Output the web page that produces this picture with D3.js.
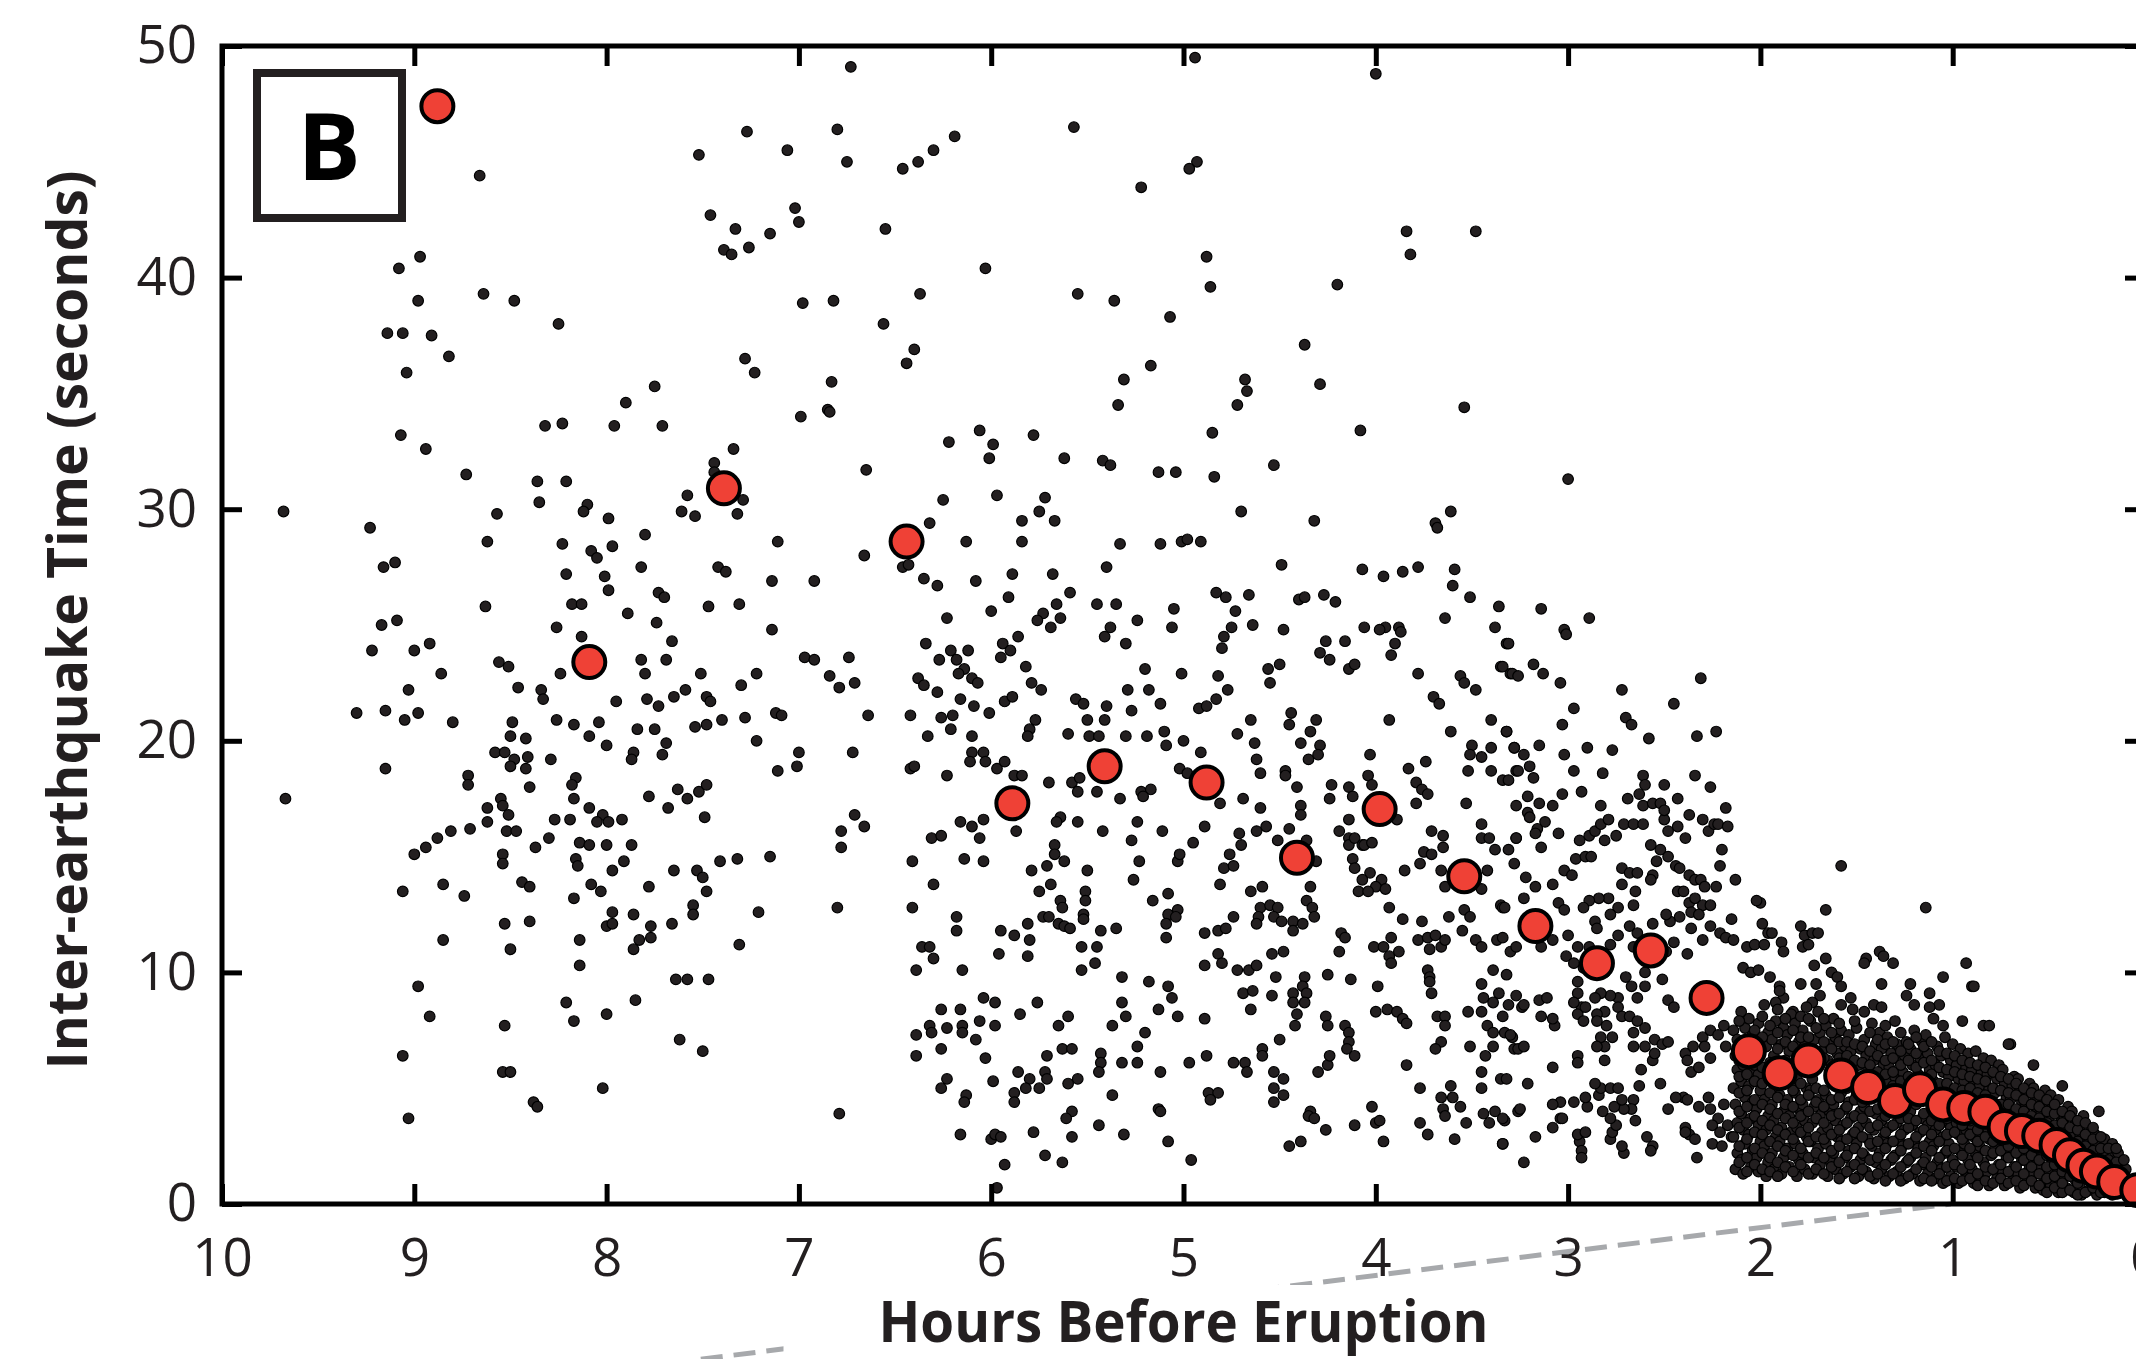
<!DOCTYPE html>
<html>
<head>
<meta charset="utf-8">
<script src="https://cdnjs.cloudflare.com/ajax/libs/d3/7.8.5/d3.min.js"></script>
<style>
  body { margin: 0; background: #fff; }
  svg { display: block; }
</style>
</head>
<body>
<div id="chart"></div>
<script>
const hourTicks = [10, 9, 8, 7, 6, 5, 4, 3, 2, 1, 0];
const secondTicks = [0, 10, 20, 30, 40, 50];

// red circles: binned mean inter-event time [hours before eruption, seconds]
const binnedMeans = [
  [8.88,47.4],[8.09,23.4],[7.39,30.9],[6.44,28.6],[5.89,17.3],[5.41,18.9],[4.88,18.2],[4.41,14.95],
  [3.98,17.05],[3.54,14.15],[3.17,12.0],[2.85,10.4],[2.57,10.95],[2.28,8.9],[2.06,6.6],[1.9,5.65],
  [1.75,6.2],[1.58,5.55],[1.44,5.05],[1.3,4.45],[1.17,4.95],[1.05,4.3],[0.94,4.15],[0.83,3.98],
  [0.73,3.33],[0.64,3.15],[0.55,2.95],[0.46,2.55],[0.39,2.1],[0.32,1.65],[0.25,1.4],[0.16,0.95],[0.04,0.6]
];

// black dots: individual earthquakes [hours before eruption, seconds]
const quakesEarly = [
  [6.73,49.1],[7.27,46.3],[7.52,45.3],[7.06,45.5],[6.8,46.4],[6.75,45],[8.66,44.4],[7.46,42.7],[7.33,42.1],[7.39,41.2],
  [7.35,41],[7.26,41.3],[7.15,41.9],[7.02,43],[7,42.4],[8.97,40.9],[9.08,40.4],[8.98,39],[8.64,39.3],[8.48,39],
  [8.25,38],[9.14,37.6],[9.06,37.6],[8.91,37.5],[8.82,36.6],[9.04,35.9],[6.98,38.9],[6.82,39],[7.28,36.5],[7.23,35.9],
  [6.83,35.5],[7.75,35.3],[7.9,34.6],[6.99,34],[6.85,34.3],[6.84,34.2],[8.32,33.6],[8.23,33.7],[7.96,33.6],[7.71,33.6],
  [9.07,33.2],[8.94,32.6],[8.73,31.5],[7.34,32.6],[7.44,32],[7.44,31.6],[6.65,31.7],[8.36,31.2],[8.21,31.2],[8.35,30.3],
  [8.1,30.2],[8.12,29.9],[7.99,29.6],[8.57,29.8],[7.58,30.6],[7.61,29.9],[7.54,29.7],[7.32,29.8],[7.29,30.4],[9.68,29.9],
  [9.23,29.2],[9.16,27.5],[9.1,27.7],[8.62,28.6],[8.23,28.5],[8.08,28.2],[8.05,27.9],[7.97,28.4],[7.8,28.9],[7.82,27.5],
  [8.21,27.2],[8.01,27.1],[7.99,26.5],[7.42,27.5],[7.38,27.3],[7.11,28.6],[7.14,26.9],[6.92,26.9],[6.66,28],[7.73,26.4],
  [7.7,26.2],[7.47,25.8],[7.31,25.9],[8.63,25.8],[8.18,25.9],[8.13,25.9],[7.89,25.5],[7.74,25.1],[9.17,25],[9.09,25.2],
  [8.26,24.9],[7.14,24.8],
  [9.22,23.9],[9,23.9],[8.92,24.2],[8.13,24.5],[7.66,24.3],[8.56,23.4],[8.51,23.2],[8.24,22.9],[8.86,22.9],[9.03,22.2],
  [8.46,22.3],[8.34,22.2],[8.33,21.8],[7.82,23.5],[7.69,23.5],[7.8,22.9],[7.51,22.9],[7.3,22.4],[7.22,22.9],[6.97,23.6],
  [6.92,23.5],[6.74,23.6],[6.84,22.8],[6.79,22.3],[6.71,22.5],[6.64,21.1],[9.3,21.2],[9.15,21.3],[9.05,20.9],[8.98,21.2],
  [8.8,20.8],[8.49,20.8],[8.26,20.9],[8.17,20.7],[8.04,20.8],[7.95,21.7],[7.79,21.8],[7.73,21.5],[7.65,21.9],[7.59,22.2],
  [7.48,21.9],[7.46,21.7],[7.4,20.9],[7.28,21],[7.12,21.2],[7.09,21.1],[7.54,20.6],[7.48,20.7],[7.84,20.5],[7.75,20.5],
  [8.5,20.2],[8.42,20.1],[8.09,20.2],[8,19.8],[7.69,19.9],[7.22,20],[7.86,19.5],[7.87,19.2],[7.71,19.4],[7,19.5],
  [6.72,19.5],[7.01,18.9],[7.11,18.7],[9.15,18.8],[8.58,19.5],[8.53,19.5],[8.48,19.2],[8.41,19.3],[8.5,18.9],[8.42,18.8],
  [8.29,19.2],[8.72,18.5],[8.72,18.1],[8.4,18],[8.16,18.4],[8.18,18.1],[9.67,17.5],[8.55,17.5],[8.54,17.2],[8.62,17.1],
  [8.51,16.8],[8.62,16.5],[8.52,16.1],[8.47,16.1],[8.71,16.2],[8.81,16.1],[8.88,15.8],[8.94,15.4],[9,15.1],[8.3,15.8],
  [8.37,15.4],[8.27,16.6],[8.19,16.6],[8.17,17.5],[8.09,17.1],[8.02,16.8],[8.05,16.5],[7.99,16.5],[7.92,16.6],[8.14,15.6],
  [8.09,15.5],[8,15.5],[7.87,15.5],[7.78,17.6],[7.68,17.1],[7.63,17.9],[7.58,17.5],[7.52,17.8],[7.48,18.1],[7.49,16.7],
  [6.71,16.8],[6.66,16.3],[6.78,16.1],[6.78,15.4],[8.54,15.1],[8.54,14.7],[8.16,14.9],[8.15,14.6],[7.97,14.4],[7.91,14.8],
  [7.65,14.4],[7.53,14.4],[7.5,14.1],[7.41,14.8],[7.32,14.9],[7.15,15],[7.48,13.5],[8.85,13.8],[9.06,13.5],[8.74,13.3],
  [8.44,13.9],[8.4,13.7],[8.08,13.8],[8.03,13.5],[8.17,13.2],[7.78,13.7],[7.97,12.6],[7.86,12.5],[8,12],[7.97,12.1],
  [7.77,12],[7.66,12.1],[7.55,12.9],[7.55,12.5],[7.21,12.6],[6.8,12.8],[8.53,12.1],[8.4,12.2],[8.85,11.4],[8.5,11],
  [8.14,11.4],[7.83,11.4],[7.77,11.5],[7.86,11],[7.31,11.2],[8.14,10.3],[8.98,9.4],[7.64,9.7],[7.58,9.7],[7.47,9.7],
  [7.85,8.8],[8.21,8.7],[8.92,8.1],[8,8.2],[8.17,7.9],[8.53,7.7],[7.62,7.1],[7.5,6.6],[9.06,6.4],[8.54,5.7],
  [8.5,5.7],[8.02,5],[8.38,4.4],[8.36,4.2],[9.03,3.7],[6.79,3.9]
];

const quakesMiddle = [
  [4.94,49.5],[4,48.8],[6.19,46.1],[6.3,45.5],[6.38,45],[6.46,44.7],[5.57,46.5],[4.93,45],[4.97,44.7],[5.22,43.9],
  [6.55,42.1],[3.84,42],[3.82,41],[3.48,42],[4.88,40.9],[6.03,40.4],[6.37,39.3],[5.55,39.3],[5.36,39],[4.86,39.6],
  [4.2,39.7],[5.07,38.3],[6.56,38],[6.4,36.9],[6.44,36.3],[5.17,36.2],[5.31,35.6],[5.34,34.5],[4.68,35.6],[4.67,35.1],
  [4.72,34.5],[4.37,37.1],[4.29,35.4],[3.54,34.4],[4.08,33.4],[4.85,33.3],[4.53,31.9],[6.06,33.4],[6.22,32.9],[5.99,32.8],
  [6.01,32.2],[5.78,33.2],[5.62,32.2],[5.42,32.1],[5.38,31.9],[5.13,31.6],[5.04,31.6],[4.84,31.4],[6.25,30.4],[5.97,30.6],
  [5.72,30.5],[5.75,29.9],[5.84,29.5],[5.67,29.5],[6.32,29.4],[6.13,28.6],[5.84,28.6],[5.33,28.5],[5.12,28.5],[5.01,28.6],
  [4.98,28.7],[4.91,28.6],[4.7,29.9],[4.32,29.5],[3.69,29.4],[3.68,29.2],[3.61,29.9],[6.46,27.5],[6.43,27.6],[6.35,27],
  [6.28,26.7],[6.08,26.9],[5.89,27.2],[5.68,27.2],[5.4,27.5],[5.91,26.2],[5.59,26.4],[5.66,25.9],[5.73,25.5],[5.76,25.2],
  [5.64,25.3],[5.45,25.9],[5.35,25.9],[5.24,25.2],[5.05,25.7],[6,25.6],[6.23,25.3],[4.83,26.4],[4.78,26.2],[4.66,26.3],
  [4.73,25.6],[4.49,27.6],[4.4,26.1],[4.37,26.2],[4.27,26.3],[4.21,26],[4.07,27.4],[3.96,27.1],[3.86,27.3],[3.78,27.5],
  [3.59,27.4],[3.6,26.7],[3.51,26.2],[3.36,25.8],[3.64,25.3],[3.38,24.9],[4.06,24.9],[3.95,24.9],[3.88,24.9],[3.98,24.8],
  [5.69,24.9],[5.38,24.9],[5.06,24.9],[4.75,24.9],[4.64,25],[4.48,24.8],
  [6.34,24.2],[6.21,23.9],[6.12,23.9],[6.18,23.5],[6.14,23.1],[6.17,22.9],[6.27,23.5],[6.38,22.7],[6.35,22.4],[6.28,22.1],
  [6.1,22.7],[6.07,22.5],[6.16,21.8],[6.09,21.5],[5.94,24.2],[5.9,23.9],[5.95,23.6],[5.86,24.5],[5.82,23.2],[5.79,22.5],
  [5.74,22.2],[5.41,24.5],[5.3,24.2],[5.2,23.1],[5.01,22.9],[4.82,22.8],[4.79,24.5],[4.8,24],[4.26,24.3],[4.16,24.3],
  [4.29,23.8],[4.24,23.5],[4.14,23.1],[4.11,23.3],[4.56,23.1],[4.5,23.3],[4.55,22.5],[3.87,24.7],[3.9,24.2],[3.92,23.7],
  [3.78,22.9],[3.32,24.2],[3.35,23.2],[3.3,22.9],[3.56,22.8],[3.54,22.5],[3.48,22.2],[5.29,22.2],[5.18,22.2],[5.56,21.8],
  [5.52,21.6],[5.4,21.5],[5.27,21.3],[5.12,21.6],[4.83,21.8],[4.77,22.2],[4.92,21.4],[4.88,21.5],
  [6.42,21.1],[6.33,20.2],[6.26,21],[6.2,21.1],[6.21,20.5],[6.1,20.2],[6.01,21.2],[5.93,21.7],[5.89,21.9],[5.77,20.9],
  [5.8,20.5],[5.81,20.2],[5.5,20.9],[5.41,20.9],[5.6,20.3],[5.49,20.2],[5.44,20.2],[5.3,20.2],[5.19,20.2],[5.1,20.4],
  [5.09,19.8],[5,20],[4.91,19.5],[4.72,20.3],[4.65,20.9],[4.63,19.9],[4.62,19.2],[4.6,18.6],[4.44,21.2],[4.45,20.7],
  [4.31,20.9],[4.34,20.4],[4.39,19.9],[4.29,19.8],[4.35,19.2],[4.3,19.4],[4.03,19.4],[3.93,20.9],[3.61,20.4],[3.7,21.9],
  [3.67,21.6],[3.4,20.9],[3.32,20.4],[3.28,19.7],[3.5,19.8],[3.4,19.7],[3.51,19.4],[3.45,19.3],[3.74,19.1],[3.83,18.8],
  [3.52,18.7],[3.4,18.7],[3.34,18.3],[3.27,18.7],[4.47,18.7],[4.47,18.5],[6.42,18.8],[6.4,18.9],[6.23,18.5],[6.1,19.5],
  [6.04,19.5],[6.11,19.1],[6.03,19.1],[5.97,18.8],[5.93,19.1],[5.88,18.5],[5.84,18.5],[5.7,18.2],[5.58,18.2],[5.54,18.4],
  [5.02,18.8],[4.98,18.6],
  [5.55,17.8],[5.45,17.8],[5.33,17.5],[5.22,17.8],[5.17,17.9],[5.21,17.6],[4.81,17.3],[4.69,17.5],[4.6,17.1],[4.41,18],
  [4.39,17.2],[4.39,16.8],[4.23,18.1],[4.24,17.5],[4.14,18],[4.12,17.6],[4.04,18.5],[4.02,18.1],[3.79,17.3],[3.79,18.2],
  [3.76,17.9],[3.73,17.7],[3.53,17.3],[3.89,16.6],[4.14,16.6],[4.19,16.1],[4.14,15.8],[4.14,15.5],[4.11,15.8],[4.07,15.5],
  [4.06,15.5],[4.02,15.6],[3.71,16.1],[3.65,15.9],[3.65,15.4],[3.45,15.8],[3.41,15.8],[3.45,16.4],[3.27,15.8],[3.38,15.3],
  [6.16,16.5],[6.1,16.3],[6.04,16.6],[6.06,15.8],[6.31,15.8],[6.26,15.9],[5.87,16.1],[5.64,16.7],[5.66,16.5],[5.55,16.5],
  [5.42,16.1],[5.24,16.5],[5.11,16.1],[4.89,16.3],[4.95,15.6],[5.27,15.7],[4.71,16],[4.62,16.1],[4.57,16.3],[4.51,15.7],
  [4.45,16.2],[4.36,15.7],[4.7,15.5],[5.67,15.5],
  [6.41,14.8],[6.14,14.9],[6.04,14.8],[6.3,13.8],[5.67,15.1],[5.71,14.6],[5.62,14.8],[5.79,14.4],[5.5,14.4],[5.23,14.8],
  [5.03,14.8],[5.02,15.1],[5.26,14],[4.76,15.1],[4.79,14.5],[4.74,14.6],[4.81,13.8],[4.31,14.8],[4.12,14.9],[4.11,14.5],
  [4.03,14.3],[4.07,14],[3.97,14],[4,13.7],[3.95,13.6],[4.09,13.5],[4.04,13.5],[3.85,14.4],[3.77,14.7],[3.75,15.2],
  [3.71,15.1],[3.66,14.4],[3.42,14.4],[3.64,13.7],[3.45,13.6],[4.34,13.7],[4.59,13.7],[4.65,13.5],[5.69,13.8],[5.75,13.5],
  [5.64,13.1],[5.63,12.8],[5.51,13.5],[5.51,13.1],[5.52,12.5],[5.52,12.3],[5.08,13.4],[5.16,13.1],[5.03,12.7],[5.08,12.5],
  [5.04,12.4],[5.09,12.1],[5.09,11.5],[6.41,12.8],[6.18,12.4],[5.73,12.4],[5.7,12.4],[5.65,12.1],[5.62,12],[5.59,11.9],
  [5.81,12.1],[4.36,13.1],[4.33,12.8],[4.32,12.4],[4.6,12.8],[4.55,12.9],[4.51,12.8],[4.61,12.4],[4.53,12.4],[4.62,12.1],
  [4.49,12.2],[4.43,12.2],[4.38,12.1],[4.43,11.8],[4.74,12.4],[3.93,12.8],[3.86,12.3],[3.76,12.2],[3.62,12.4],[3.54,12.7],
  [3.51,12.4],[3.35,12.9],[3.34,12.8],[3.55,11.8],
  [6.18,11.8],[5.95,11.8],[5.88,11.6],[5.8,11.4],[6.36,11.1],[6.32,11.1],[6.3,10.6],[6.39,10.1],[6.15,10.1],[5.96,10.8],
  [5.81,10.7],[5.43,11.8],[5.35,11.9],[5.53,11.1],[5.45,11.1],[5.46,10.4],[5.53,10.1],[4.89,11.7],[4.82,11.8],[4.78,11.9],
  [4.82,10.8],[4.8,10.4],[4.89,10.3],[4.72,10.1],[4.66,10.1],[4.62,10.3],[4.54,10.8],[4.48,10.9],[4.52,9.8],[4.37,9.8],
  [4.25,9.9],[4.13,9.7],[4.18,11.7],[4.16,11.5],[4.19,10.9],[4.01,11.1],[3.96,11.1],[3.92,11.5],[3.93,10.7],[3.92,10.4],
  [3.88,10.9],[3.78,11.4],[3.73,11.5],[3.69,11.6],[3.66,11.1],[3.64,11.4],[3.72,11],[3.48,11.4],[3.45,11.1],[3.37,11.4],
  [3.3,10.9],[3.73,10.1],[3.72,9.8],[3.72,9.6],[3.71,9.1],[3.39,10.1],[3.32,9.9],[3.45,9.5],[3.99,9.4],[5.32,9.8],
  [5.18,9.6],[5.08,9.4],[5.06,8.9],[6.04,8.9],[5.98,8.7],[5.76,8.7],[6.26,8.4],[6.16,8.4],[4.69,9.1],[4.64,9.2],
  [4.54,9],[4.43,9.1],[4.38,9.4],[4.36,9.1],[4.43,8.7],[4.37,8.7],[3.44,8.9],[3.39,8.7],[3.36,9.1],
  [5.85,8.2],[5.32,8.7],[5.3,8.1],[5.13,8.4],[5.03,8.1],[4.89,8],[4.65,8.4],[4.41,8.2],[4.42,7.7],[4.26,8.1],
  [4.25,7.7],[4.16,7.7],[4.14,7.4],[4.14,7],[4.15,6.7],[4.11,6.4],[4,8.3],[3.94,8.4],[3.89,8.3],[3.86,8],
  [3.84,7.8],[3.68,8.1],[3.64,8.1],[3.64,7.7],[3.52,8.3],[3.45,8.3],[3.42,7.7],[3.39,7.4],[3.33,7.4],[3.39,6.8],
  [3.51,6.8],[3.66,7],[3.69,6.7],[3.43,6.4],[3.28,6.7],[3.84,6],[3.45,5.7],[3.35,5.4],[3.45,5],[3.77,5],
  [3.61,5.1],[3.6,4.6],[3.66,4.6],[3.56,4.2],[3.65,4.1],[3.64,3.8],[3.44,3.9],[3.38,4],[3.33,3.6],[3.26,4],
  [3.41,3.5],[3.53,3.5],[3.77,3.5],[3.73,3],[3.59,2.8],[3.34,2.6],[6.39,7.3],[6.32,7.7],[6.31,7.4],[6.23,7.6],
  [6.15,7.7],[6.15,7.4],[6.08,7.1],[6.06,7.9],[5.98,7.7],[6.26,6.7],[6.39,6.4],[6.03,6.3],[5.65,7.7],[5.6,8.1],
  [5.63,6.7],[5.58,6.7],[5.71,6.4],[5.43,6.5],[5.37,7.7],[5.2,7.4],[5.24,6.8],[5.24,6.1],[5.32,6.1],[5.43,6.1],
  [5.44,5.7],[5.12,5.7],[4.97,6.1],[4.88,6.4],[4.74,6.1],[4.68,6.1],[4.67,5.7],[4.59,6.7],[4.59,6.4],[4.5,7.1],
  [4.53,5.7],[4.3,5.7],[4.25,6],[4.24,6.4],[5.86,5.7],[5.72,5.7],[5.71,5.4],[5.8,5.4],[5.82,5],[5.75,5],
  [5.55,5.4],[5.6,5.2],[5.99,5.3],[6.23,5.4],[6.26,5],
  [6.13,4.7],[6.14,4.4],[5.88,4.8],[5.88,4.4],[5.37,4.7],[4.87,4.8],[4.82,4.8],[4.86,4.5],[4.53,5],[4.53,4.4],
  [4.48,4.7],[4.48,5.4],[5.58,4],[5.61,3.7],[5.13,4.1],[5.12,4],[4.34,4],[4.35,3.8],[4.32,3.7],[4.02,4.2],
  [4,3.5],[3.98,3.6],[4.11,3.4],[4.26,3.2],[6.16,3],[6,2.8],[5.98,3],[5.95,2.9],[5.78,3.1],[5.58,2.9],
  [5.44,3.4],[5.31,3],[5.08,2.7],[5.72,2.1],[5.63,1.8],[5.93,1.7],[4.96,1.9],[4.45,2.5],[4.39,2.7],[3.96,2.7],
  [5.97,0.7]
];

const quakesLate = [
  [3,31.3],[3.14,25.7],[2.89,25.3],[3.02,24.8],
  [3.01,24.6],[3.31,24.2],[3.18,23.3],[3.34,23.2],[3.29,22.9],[3.26,22.8],[3.13,22.9],[3.04,22.5],[2.31,22.7],[2.72,22.2],
  [2.45,21.6],[2.97,21.4],[3.03,20.7],[2.7,21],[2.67,20.7],[3.32,20.4],[3.15,19.8],[2.9,19.7],[2.77,19.6],[2.58,20.1],
  [2.33,20.2],[2.23,20.4],[3.28,19.7],[3.23,19.4],[3.2,18.9],[3.26,18.7],[3.02,19.4],[2.97,18.7],[3.31,18.3],[3.18,18.4],
  [2.82,18.6],[2.61,18.5],[2.6,18.1],[2.5,18.1],[2.34,18.5],[2.26,18],[3.21,17.6],[3.15,17.3],[3.08,17.2],[3.27,17.2],
  [3.03,17.7],[2.93,17.8],[2.83,17.2],[2.69,17.5],[2.63,17.7],[2.61,17.2],[2.56,17.3],[2.52,17.3],[2.43,17.5],[2.18,17.1],
  [3.21,16.9],[3.2,16.7],[3.12,16.5],[3.16,16.2],[3.17,16],[3.05,16],[3.27,15.8],[3.14,15.4],[3.31,15.3],[3.28,14.7],
  [2.94,15.7],[2.89,15.9],[2.86,16.1],[2.81,15.7],[2.83,16.4],[2.79,16.6],[2.75,15.9],[2.71,16.4],[2.66,16.4],[2.61,16.4],
  [2.5,16.6],[2.5,17],[2.48,16.1],[2.43,16.3],[2.37,16.8],[2.3,16.6],[2.27,16.1],[2.24,16.4],[2.22,16.4],[2.17,16.3],
  [2.39,15.8],[2.2,15.3],[2.21,14.6],[2.13,14],[2.57,15.5],[2.52,15.3],[2.48,15],[2.54,14.8],[2.44,14.6],[2.42,14.5],
  [2.37,14.2],[2.34,14],[2.31,14],[2.29,13.7],[2.23,13.7],[2.96,14.9],[2.91,15],[2.88,15],[3.02,14.4],[2.98,14.2],
  [2.72,14.5],[2.68,14.3],[2.64,14.3],[2.56,14.2],[2.57,14],[2.72,13.8],[2.65,13.5],[2.66,12.9],[2.74,12.8],[2.79,13.2],
  [2.84,13.2],[2.89,13.1],[2.92,12.8],[3.08,13.8],[3.17,13.7],[3.22,14.1],[3.23,13.2],[3.05,13],[3.02,12.7],[3.33,12.8],
  [3.27,11.1],[3.34,11.5],[3.13,11.7],[3.14,11.1],[3.08,11.4],[3,11.6],[2.86,12.2],[2.85,11.9],[2.78,12.5],[2.74,11.6],
  [2.78,11.2],[2.84,10.9],[2.89,11.1],[2.95,11.1],[3.01,10.7],[2.97,10.4],[2.92,10.2],[2.81,10],[2.95,9.6],[2.68,12],
  [2.64,11.7],[2.56,12.1],[2.47,12.2],[2.42,12.4],[2.49,12.5],[2.43,13.5],[2.4,13.5],[2.37,13],[2.34,13.2],[2.3,12.9],
  [2.36,12.6],[2.32,12.5],[2.26,12.9],[2.26,12],[2.21,11.7],[2.18,11.5],[2.14,11.4],[2.15,12.3],[2.36,11.9],[2.3,11.4],
  [2.45,11.3],[2.49,10.9],[2.38,10.8],[2.66,11.1],[2.56,10.7],[2.51,9.7],[2.48,8.8],[2.45,8.5],[2.6,9.4],[2.6,10],
  [2.7,9.8],[2.67,9.4],[2.64,8.9],[2.74,8.9],[2.78,9],[2.83,9.1],[2.74,8.5],[2.81,8.3],[2.86,8.9],[2.93,8.5],
  [2.95,9.1],[2.85,8.2],[2,13],[2.02,13.1],[1.99,12.1],[1.96,11.7],[1.94,11.7],[2.07,11.1],[2.03,11.2],[1.98,11.2],
  [1.89,11.3],[1.88,10.9],[1.79,12],[1.77,11.6],[1.73,11.7],[1.7,11.7],[1.78,11.1],[1.75,11.2],[1.66,12.7],[1.58,14.6],
  [1.14,12.8],[0.93,10.4],[0.9,9.4],[1.05,9.8],[1.05,7.7],[0.7,6.9],[0.24,4],[1.38,10.9],[1.36,10.7],[1.31,10.4],
  [1.45,10.6],[1.46,10.4],[1.72,10.3],[1.66,10.6],[1.63,10],[2.09,10.2],[2.05,10],[2.01,10.1],[1.95,9.8],[1.9,9.4],
  [1.88,8.9],[1.92,8.7],[1.83,8.3],[1.79,9.5],[1.71,9.5],[1.69,9],[1.73,8.7],[1.6,9.8],[1.58,9.4],[1.53,8.9],
  [1.58,8.6],[1.37,9.5],[1.22,9.5],[1.24,9],[1.2,8.6],[1.12,9.1],[1.07,8.6],[1.12,8.5],[1.1,8],[1.41,8.6],
  [1.37,8.5],[1.46,8.3],[0.89,9.4],[0.95,7.9],[0.84,7.7],[0.81,7.7],[0.58,6],[0.43,5.1],[0.71,6.9],
  [2.39,6.5],[2.38,6.2],[2.36,5.7],[2.35,6.8],[2.3,7.2],[2.26,7.5],[2.29,6.8],[2.32,5.9],[2.26,6.3],[2.22,7.3],
  [2.19,7.7],[2.18,6.8],[2.14,7.5],[2.4,4.6],[2.38,4.5],[2.32,4.2],[2.27,4.6],[2.26,4.1],[2.22,3.7],[2.19,4.3],
  [2.17,3.4],[2.25,3.4],[2.37,3],[2.21,3.1],[2.15,2.9],[2.25,2.6],[2.2,2.5],[2.33,2],[2.39,3.3],[2.39,3.1],
  [2.34,2.8],[2.48,4.1],[2.44,4.6],[2.52,5.2],[2.56,6.2],[2.55,6.5],[2.62,5.8],[2.63,5.1],[2.66,4.5],[2.67,4.1],
  [2.65,3.6],[2.71,2.2],[2.72,2.5],[2.78,2.8],[2.77,3.1],[2.75,3.4],[2.71,4.1],[2.76,4.2],[2.78,3.7],[2.82,4],
  [2.72,4.5],[2.59,2.9],[2.56,2.5],[2.57,2.3],[2.94,2.7],[2.93,2.3],[2.93,2],[2.95,3],[2.91,3.1],[2.84,4.7],
  [2.9,4.2],[2.83,5],[2.86,5.2],[2.78,5],[2.74,5],[2.91,4.6],[2.97,4.4],[3.04,4.4],[3.08,4.3],[3.04,3.7],
  [3.08,3.3],[3.03,3.7],[3.17,2.9],[3.23,1.8],[3.25,4.1],[3.34,3.7],[3.34,2.6],[2.95,8.2],[2.97,8.7],[2.91,8.5],
  [2.92,7.9],[2.85,7.9],[2.8,7.7],[2.77,7.2],[2.72,8.1],[2.68,8.1],[2.64,7.9],[2.66,7.4],[2.6,7.6],[2.55,7.1],
  [2.51,6.9],[2.48,7],[2.6,6.8],[2.66,6.8],[2.81,6.8],[2.83,7.2],[2.85,6.8],[2.81,6.2],[2.95,6.4],[2.95,6.1],
  [3.08,5.9],[3.21,5.2],[3.32,5.4],[3.26,6.7],[3.23,6.8],[3.29,7.2],[3.3,7.3],[3.34,8.1],[3.31,8.6],[3.24,8.5],
  [3.23,8.6],[3.27,9],[3.15,8.8],[3.11,8.9],[3.07,7.7],[3.08,8],[3.14,8.1]
];

// the dense swarm of the last two hours, read column by column
const quakesSwarm = [
  [2.13,1.5],[2.12,2.2],[2.14,2.9],[2.12,3.5],[2.13,4.3],[2.14,5.0],[2.12,5.8],[2.13,6.4],[2.12,7.1],
  [2.09,1.3],[2.1,1.9],[2.08,2.6],[2.09,3.2],[2.1,3.9],[2.08,4.6],[2.1,5.3],[2.09,6.0],[2.08,7.6],[2.1,8.3],
  [2.05,1.6],[2.04,2.3],[2.06,3.0],[2.05,3.7],[2.04,4.4],[2.06,5.1],[2.05,5.7],[2.04,7.3],[2.06,8.0],
  [2.01,1.4],[2.02,2.0],[2.0,2.7],[2.01,3.4],[2.02,4.1],[2.0,4.9],[2.01,5.6],[2.02,6.3],[2.0,7.0],[2.01,7.8],
  [1.97,1.2],[1.96,1.8],[1.98,2.5],[1.97,3.2],[1.96,3.8],[1.98,4.5],[1.97,6.8],[1.96,7.4],[1.98,8.6],
  [1.93,1.5],[1.94,2.2],[1.92,2.9],[1.93,3.6],[1.94,4.3],[1.92,5.0],[1.93,6.4],[1.94,7.1],[1.92,7.9],
  [1.89,1.3],[1.88,2.0],[1.9,2.7],[1.89,3.3],[1.88,4.0],[1.9,4.7],[1.89,6.9],[1.88,7.6],[1.9,9.2],
  [1.85,1.6],[1.86,2.4],[1.84,3.1],[1.85,3.8],[1.86,4.5],[1.84,5.2],[1.85,6.6],[1.86,7.3],[1.84,8.2],
  [1.81,1.2],[1.8,1.9],[1.82,2.6],[1.81,3.3],[1.8,4.1],[1.82,4.8],[1.81,5.4],[1.8,7.0],[1.82,7.8],
  [1.77,1.5],[1.78,2.2],[1.76,2.9],[1.77,3.6],[1.78,4.3],[1.76,5.0],[1.77,6.8],[1.78,7.5],[1.76,8.5],
  [1.73,1.3],[1.72,2.0],[1.74,2.7],[1.73,3.5],[1.72,4.2],[1.74,4.9],[1.73,5.4],[1.72,7.1],[1.74,7.9],
  [1.69,1.7],[1.7,2.4],[1.68,3.1],[1.69,3.8],[1.7,4.5],[1.68,6.6],[1.69,7.4],[1.7,8.3],
  [1.65,1.2],[1.64,1.9],[1.66,2.6],[1.65,3.3],[1.64,4.0],[1.66,4.7],[1.65,6.2],[1.64,6.9],[1.66,7.7],
  [1.61,1.5],[1.62,2.2],[1.6,2.9],[1.61,3.6],[1.62,4.3],[1.6,6.5],[1.61,7.2],[1.62,8.0],
  [1.57,1.3],[1.56,2.0],[1.58,2.7],[1.57,3.4],[1.56,4.1],[1.58,4.8],[1.57,6.1],[1.56,6.8],[1.58,7.5],
  [1.53,1.6],[1.54,2.3],[1.52,3.0],[1.53,3.7],[1.54,4.4],[1.52,5.9],[1.53,6.6],[1.54,7.3],[1.52,8.4],
  [1.49,1.2],[1.48,1.9],[1.5,2.6],[1.49,3.3],[1.48,4.0],[1.5,4.7],[1.49,6.0],[1.48,6.7],[1.5,7.6],
  [1.45,1.4],[1.46,2.1],[1.44,2.8],[1.45,3.5],[1.46,4.2],[1.44,5.8],[1.45,6.4],[1.46,7.1],
  [1.41,1.1],[1.4,1.8],[1.42,2.5],[1.41,3.2],[1.4,3.9],[1.42,5.5],[1.41,6.2],[1.4,6.9],[1.42,7.8],
  [1.37,1.5],[1.38,2.2],[1.36,2.9],[1.37,3.6],[1.38,5.4],[1.36,6.0],[1.37,6.7],[1.38,7.4],
  [1.33,1.2],[1.32,1.9],[1.34,2.6],[1.33,3.3],[1.32,4.0],[1.34,5.2],[1.33,5.9],[1.32,6.5],[1.34,7.2],
  [1.29,1.4],[1.3,2.1],[1.28,2.8],[1.29,3.5],[1.3,5.5],[1.28,6.2],[1.29,6.9],[1.3,7.9],
  [1.25,1.1],[1.24,1.8],[1.26,2.5],[1.25,3.2],[1.24,3.9],[1.26,5.7],[1.25,6.4],[1.24,7.0],
  [1.21,1.3],[1.22,2.0],[1.2,2.7],[1.21,3.4],[1.22,4.0],[1.2,5.3],[1.21,6.0],[1.22,6.7],[1.2,7.5],
  [1.17,1.0],[1.16,1.7],[1.18,2.4],[1.17,3.1],[1.16,3.7],[1.18,5.6],[1.17,6.3],[1.16,7.0],
  [1.13,1.3],[1.14,2.0],[1.12,2.7],[1.13,3.4],[1.14,5.1],[1.12,5.8],[1.13,6.5],[1.14,7.3],
  [1.09,1.1],[1.08,1.8],[1.1,2.5],[1.09,3.2],[1.08,3.8],[1.1,5.3],[1.09,6.0],[1.08,6.8],
  [1.05,0.9],[1.06,1.5],[1.04,2.2],[1.05,2.9],[1.06,3.5],[1.04,5.0],[1.05,5.7],[1.06,6.4],[1.04,7.2],
  [1.01,1.2],[1.0,1.9],[1.02,2.6],[1.01,3.3],[1.0,4.9],[1.02,5.5],[1.01,6.2],[1.0,6.9],
  [0.97,0.9],[0.98,1.6],[0.96,2.3],[0.97,3.0],[0.98,3.5],[0.96,4.8],[0.97,5.4],[0.98,6.0],[0.96,6.7],
  [0.93,1.2],[0.92,1.9],[0.94,2.6],[0.93,3.2],[0.92,4.7],[0.94,5.3],[0.93,5.9],[0.92,6.5],
  [0.89,0.9],[0.9,1.5],[0.88,2.2],[0.89,2.9],[0.9,3.4],[0.88,4.6],[0.89,5.2],[0.9,5.8],[0.88,6.6],
  [0.85,1.1],[0.84,1.8],[0.86,2.5],[0.85,3.1],[0.84,4.5],[0.86,5.1],[0.85,5.7],[0.84,6.3],
  [0.81,0.8],[0.82,1.4],[0.8,2.1],[0.81,2.8],[0.82,3.3],[0.8,4.5],[0.81,5.0],[0.82,5.6],[0.8,6.2],
  [0.77,1.1],[0.76,1.7],[0.78,2.4],[0.77,2.9],[0.76,4.2],[0.78,4.8],[0.77,5.4],[0.76,6.0],
  [0.73,0.8],[0.74,1.4],[0.72,2.0],[0.73,2.6],[0.74,4.0],[0.72,4.6],[0.73,5.2],[0.74,5.8],
  [0.69,1.0],[0.68,1.6],[0.7,2.2],[0.69,2.7],[0.68,3.9],[0.7,4.5],[0.69,5.1],[0.68,5.5],
  [0.65,0.7],[0.66,1.3],[0.64,1.9],[0.65,2.5],[0.66,3.8],[0.64,4.4],[0.65,4.9],[0.66,5.4],
  [0.61,1.0],[0.6,1.6],[0.62,2.2],[0.61,2.6],[0.6,3.7],[0.62,4.2],[0.61,4.8],[0.6,5.2],
  [0.57,0.7],[0.58,1.3],[0.56,1.9],[0.57,2.4],[0.58,3.6],[0.56,4.1],[0.57,4.6],[0.58,5.0],
  [0.53,0.6],[0.52,1.0],[0.54,1.6],[0.53,2.2],[0.52,3.4],[0.54,3.9],[0.53,4.4],[0.52,4.9],
  [0.49,0.8],[0.5,1.3],[0.48,1.9],[0.49,3.2],[0.5,3.7],[0.48,4.2],[0.49,4.7],
  [0.45,0.5],[0.44,1.0],[0.46,1.6],[0.45,2.9],[0.44,3.5],[0.46,4.0],[0.45,4.5],
  [0.41,0.7],[0.42,1.2],[0.4,2.7],[0.41,3.2],[0.42,3.7],[0.4,4.2],
  [0.37,0.5],[0.36,1.0],[0.38,2.6],[0.37,3.0],[0.36,3.5],[0.38,4.0],
  [0.33,0.4],[0.34,0.8],[0.32,2.4],[0.33,2.8],[0.34,3.3],[0.32,3.8],
  [0.29,0.6],[0.28,1.0],[0.3,2.2],[0.29,2.7],[0.28,3.2],
  [0.25,0.4],[0.26,0.8],[0.24,2.0],[0.25,2.5],[0.26,3.0],
  [0.21,0.5],[0.2,1.7],[0.22,2.2],[0.21,2.8],
  [0.17,0.4],[0.18,1.5],[0.16,2.0],[0.17,2.6],
  [0.13,0.5],[0.12,1.6],[0.14,2.2],
  [0.09,0.6],[0.1,1.5]
];

// second pass over the swarm, between the columns above
const quakesSwarmFill = [
  [2.11,1.8],[2.11,2.5],[2.11,3.3],[2.11,4.0],[2.11,4.8],[2.11,5.5],[2.11,6.2],[2.11,6.9],[2.11,7.9],
  [2.07,1.4],[2.07,2.0],[2.07,2.8],[2.07,3.5],[2.07,4.2],[2.07,4.9],[2.07,5.6],[2.07,6.3],[2.07,7.0],
  [2.03,1.7],[2.03,2.4],[2.03,3.1],[2.03,3.8],[2.03,4.5],[2.03,5.3],[2.03,6.0],[2.03,6.7],[2.03,7.5],
  [1.99,1.5],[1.99,2.2],[1.99,3.0],[1.99,3.6],[1.99,4.3],[1.99,5.2],[1.99,5.9],[1.99,7.2],[1.99,8.1],
  [1.95,1.4],[1.95,2.0],[1.95,2.7],[1.95,3.4],[1.95,4.1],[1.95,4.8],[1.95,6.1],[1.95,7.7],
  [1.91,1.2],[1.91,1.8],[1.91,2.5],[1.91,3.2],[1.91,3.9],[1.91,4.6],[1.91,6.7],[1.91,7.4],[1.91,8.4],
  [1.87,1.6],[1.87,2.3],[1.87,3.0],[1.87,3.7],[1.87,4.3],[1.87,5.3],[1.87,6.2],[1.87,7.0],[1.87,8.0],
  [1.83,1.4],[1.83,2.1],[1.83,2.8],[1.83,3.5],[1.83,4.2],[1.83,4.9],[1.83,6.0],[1.83,6.8],[1.83,7.5],
  [1.79,1.7],[1.79,2.4],[1.79,3.1],[1.79,3.8],[1.79,4.5],[1.79,5.2],[1.79,6.5],[1.79,7.2],[1.79,8.1],
  [1.75,1.3],[1.75,2.0],[1.75,2.7],[1.75,3.3],[1.75,4.0],[1.75,4.7],[1.75,6.6],[1.75,7.2],[1.75,8.0],
  [1.71,1.5],[1.71,2.2],[1.71,2.9],[1.71,3.7],[1.71,4.4],[1.71,5.0],[1.71,6.4],[1.71,7.6],
  [1.67,1.3],[1.67,2.0],[1.67,2.8],[1.67,3.5],[1.67,4.2],[1.67,4.9],[1.67,6.3],[1.67,7.0],[1.67,8.0],
  [1.63,1.6],[1.63,2.3],[1.63,3.0],[1.63,3.8],[1.63,4.5],[1.63,6.0],[1.63,6.7],[1.63,7.4],
  [1.59,1.1],[1.59,1.8],[1.59,2.5],[1.59,3.2],[1.59,3.9],[1.59,4.6],[1.59,6.3],[1.59,7.0],[1.59,7.8],
  [1.55,1.4],[1.55,2.1],[1.55,2.8],[1.55,3.5],[1.55,4.2],[1.55,5.0],[1.55,5.8],[1.55,6.4],[1.55,7.0],
  [1.51,1.1],[1.51,1.7],[1.51,2.4],[1.51,3.1],[1.51,3.8],[1.51,4.5],[1.51,6.2],[1.51,6.9],[1.51,7.9],
  [1.47,1.5],[1.47,2.2],[1.47,2.9],[1.47,3.7],[1.47,4.4],[1.47,5.3],[1.47,6.1],[1.47,6.8],
  [1.43,1.2],[1.43,1.9],[1.43,2.6],[1.43,3.3],[1.43,4.0],[1.43,4.6],[1.43,6.0],[1.43,6.6],[1.43,7.4],
  [1.39,1.3],[1.39,2.0],[1.39,2.7],[1.39,3.4],[1.39,4.1],[1.39,5.7],[1.39,6.4],[1.39,7.1],
  [1.35,1.0],[1.35,1.7],[1.35,2.4],[1.35,3.1],[1.35,3.8],[1.35,5.6],[1.35,6.2],[1.35,6.9],[1.35,7.7],
  [1.31,1.3],[1.31,2.0],[1.31,2.7],[1.31,3.4],[1.31,4.1],[1.31,5.1],[1.31,5.7],[1.31,6.3],[1.31,7.0],
  [1.27,1.0],[1.27,1.6],[1.27,2.3],[1.27,3.0],[1.27,3.7],[1.27,5.3],[1.27,6.0],[1.27,6.6],[1.27,7.4],
  [1.23,1.2],[1.23,1.9],[1.23,2.6],[1.23,3.3],[1.23,3.7],[1.23,5.0],[1.23,5.5],[1.23,6.2],[1.23,6.9],
  [1.19,1.5],[1.19,2.2],[1.19,2.9],[1.19,3.6],[1.19,4.3],[1.19,5.9],[1.19,6.5],[1.19,7.2],
  [1.15,1.1],[1.15,1.8],[1.15,2.5],[1.15,3.2],[1.15,3.9],[1.15,5.4],[1.15,6.1],[1.15,6.8],
  [1.11,1.0],[1.11,1.6],[1.11,2.3],[1.11,3.0],[1.11,3.6],[1.11,5.0],[1.11,5.6],[1.11,6.2],[1.11,7.0],
  [1.07,1.3],[1.07,2.0],[1.07,2.7],[1.07,3.4],[1.07,4.0],[1.07,5.2],[1.07,5.9],[1.07,6.6],
  [1.03,1.0],[1.03,1.6],[1.03,2.3],[1.03,3.0],[1.03,3.7],[1.03,5.2],[1.03,5.8],[1.03,6.5],
  [0.99,1.1],[0.99,1.7],[0.99,2.4],[0.99,3.1],[0.99,3.8],[0.99,5.0],[0.99,5.7],[0.99,6.4],
  [0.95,1.0],[0.95,1.5],[0.95,2.1],[0.95,2.8],[0.95,3.4],[0.95,4.9],[0.95,5.6],[0.95,6.2],
  [0.91,1.1],[0.91,1.7],[0.91,2.4],[0.91,3.0],[0.91,3.6],[0.91,4.5],[0.91,5.0],[0.91,5.5],[0.91,6.1],
  [0.87,0.8],[0.87,1.3],[0.87,2.0],[0.87,2.7],[0.87,3.2],[0.87,4.8],[0.87,5.4],[0.87,6.0],
  [0.83,1.0],[0.83,1.6],[0.83,2.3],[0.83,2.9],[0.83,3.6],[0.83,4.7],[0.83,5.3],[0.83,5.9],
  [0.79,0.9],[0.79,1.5],[0.79,2.2],[0.79,2.7],[0.79,3.3],[0.79,4.4],[0.79,5.0],[0.79,5.7],
  [0.75,1.1],[0.75,1.7],[0.75,2.3],[0.75,2.8],[0.75,4.3],[0.75,4.9],[0.75,5.5],
  [0.71,0.9],[0.71,1.4],[0.71,2.0],[0.71,2.5],[0.71,3.9],[0.71,4.3],[0.71,4.8],[0.71,5.4],
  [0.67,1.0],[0.67,1.6],[0.67,2.2],[0.67,2.8],[0.67,4.1],[0.67,4.7],[0.67,5.2],
  [0.63,0.8],[0.63,1.3],[0.63,1.9],[0.63,2.4],[0.63,3.4],[0.63,4.0],[0.63,4.5],[0.63,5.0],
  [0.59,1.0],[0.59,1.6],[0.59,2.1],[0.59,2.8],[0.59,3.8],[0.59,4.3],[0.59,4.8],
  [0.55,0.8],[0.55,1.3],[0.55,1.9],[0.55,2.5],[0.55,3.7],[0.55,4.2],[0.55,4.7],
  [0.51,0.5],[0.51,1.1],[0.51,1.6],[0.51,2.1],[0.51,2.8],[0.51,3.5],[0.51,4.0],[0.51,4.5],
  [0.47,0.7],[0.47,1.2],[0.47,1.7],[0.47,2.2],[0.47,3.4],[0.47,3.9],[0.47,4.3],
  [0.43,0.5],[0.43,0.9],[0.43,1.4],[0.43,2.0],[0.43,3.0],[0.43,3.5],[0.43,4.0],
  [0.39,0.6],[0.39,1.2],[0.39,1.7],[0.39,2.9],[0.39,3.3],[0.39,3.8],
  [0.35,0.4],[0.35,0.9],[0.35,1.4],[0.35,2.7],[0.35,3.2],[0.35,3.6],
  [0.31,0.5],[0.31,1.1],[0.31,1.5],[0.31,2.5],[0.31,3.0],[0.31,3.5],
  [0.27,0.7],[0.27,1.2],[0.27,2.3],[0.27,2.8],[0.27,3.3],
  [0.23,0.5],[0.23,1.0],[0.23,2.4],[0.23,2.9],
  [0.19,0.6],[0.19,1.0],[0.19,1.9],[0.19,2.4],
  [0.15,0.6],[0.15,1.1],[0.15,1.8],[0.15,2.4],
  [0.11,0.8],[0.11,1.2],[0.11,1.9]
];

// grey dashed leader to the next panel, in data units
const leader = [[7.51, -6.7], [1.01, 0]];

const width = 2136;
const height = 1359;
const margin = { top: 46, right: -9, bottom: 155, left: 222 };
const font = '"Open Sans", "DejaVu Sans", sans-serif';
const ink = '#231f20';

const x = d3.scaleLinear().domain([10, 0]).range([margin.left, width - margin.right]);
const y = d3.scaleLinear().domain([0, 50]).range([height - margin.bottom, margin.top]);

const svg = d3
  .select('#chart')
  .append('svg')
  .attr('width', width)
  .attr('height', height)
  .style('background', '#fff');

svg
  .append('path')
  .datum(leader)
  .attr('fill', 'none')
  .attr('stroke', '#a7a9ac')
  .attr('stroke-width', 5)
  .attr('stroke-dasharray', '22 11')
  .attr('d', d3.line().x(d => x(d[0])).y(d => y(d[1])));

const quakes = [].concat(quakesEarly, quakesMiddle, quakesLate, quakesSwarm, quakesSwarmFill);

svg
  .append('g')
  .selectAll('circle')
  .data(quakes)
  .join('circle')
  .attr('cx', d => x(d[0]))
  .attr('cy', d => y(d[1]))
  .attr('r', 5.3)
  .attr('fill', ink)
  .attr('stroke', '#000')
  .attr('stroke-width', 1.2);

svg
  .append('g')
  .selectAll('circle')
  .data(binnedMeans)
  .join('circle')
  .attr('cx', d => x(d[0]))
  .attr('cy', d => y(d[1]))
  .attr('r', 16)
  .attr('fill', '#ef4136')
  .attr('stroke', '#000')
  .attr('stroke-width', 4);

svg
  .append('rect')
  .attr('x', x(10))
  .attr('y', y(50))
  .attr('width', x(0) - x(10))
  .attr('height', y(0) - y(50))
  .attr('fill', 'none')
  .attr('stroke', '#000')
  .attr('stroke-width', 5);

function styleAxis(g) {
  g.select('.domain').remove();
  g.selectAll('.tick line').attr('stroke', '#000').attr('stroke-width', 5);
  g.attr('font-family', font).attr('font-size', 53);
  g.selectAll('.tick text').attr('fill', ink);
}

svg
  .append('g')
  .attr('transform', `translate(0,${y(0)})`)
  .call(d3.axisBottom(x).tickValues(hourTicks).tickSizeInner(-20).tickSizeOuter(0).tickPadding(34).tickFormat(d3.format('d')))
  .call(styleAxis);

svg
  .append('g')
  .attr('transform', `translate(0,${y(50)})`)
  .call(d3.axisTop(x).tickValues(hourTicks).tickSizeInner(-20).tickSizeOuter(0).tickFormat(''))
  .call(styleAxis);

svg
  .append('g')
  .attr('transform', `translate(${x(10)},0)`)
  .call(d3.axisLeft(y).tickValues(secondTicks).tickSizeInner(-20).tickSizeOuter(0).tickPadding(25).tickFormat(d3.format('d')))
  .call(styleAxis);

svg
  .append('g')
  .attr('transform', `translate(${x(0)},0)`)
  .call(d3.axisRight(y).tickValues(secondTicks).tickSizeInner(-20).tickSizeOuter(0).tickFormat(''))
  .call(styleAxis);

// x title sits on a white patch that hides the leader behind it
const titleBox = svg.append('rect').attr('fill', '#fff');
const xTitle = svg
  .append('text')
  .attr('x', (x(10) + x(0)) / 2)
  .attr('y', 1342)
  .attr('text-anchor', 'middle')
  .attr('font-family', font)
  .attr('font-weight', 700)
  .attr('font-size', 57)
  .attr('fill', ink)
  .attr('textLength', 610)
  .attr('lengthAdjust', 'spacingAndGlyphs')
  .text('Hours Before Eruption');
const tb = xTitle.node().getBBox();
titleBox
  .attr('x', tb.x - 95)
  .attr('y', tb.y + 4)
  .attr('width', tb.width + 110)
  .attr('height', height - tb.y);

svg
  .append('text')
  .attr('transform', `translate(87,${(y(0) + y(50)) / 2 - 5}) rotate(-90)`)
  .attr('text-anchor', 'middle')
  .attr('font-family', font)
  .attr('font-weight', 700)
  .attr('font-size', 56)
  .attr('fill', ink)
  .attr('textLength', 899)
  .attr('lengthAdjust', 'spacingAndGlyphs')
  .text('Inter-earthquake Time (seconds)');

// panel label
const panel = svg.append('g').attr('transform', 'translate(257,73)');
panel
  .append('rect')
  .attr('width', 145)
  .attr('height', 145)
  .attr('fill', '#fff')
  .attr('stroke', ink)
  .attr('stroke-width', 8);
panel
  .append('text')
  .attr('x', 72)
  .attr('y', 107)
  .attr('text-anchor', 'middle')
  .attr('font-family', font)
  .attr('font-weight', 700)
  .attr('font-size', 94)
  .attr('fill', '#000')
  .text('B');
</script>
</body>
</html>
